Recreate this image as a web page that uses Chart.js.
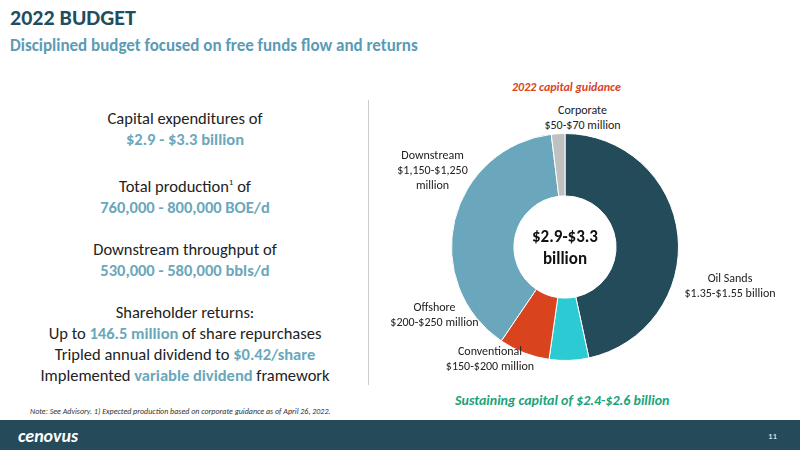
<!DOCTYPE html>
<html><head><meta charset="utf-8">
<script src="https://cdn.jsdelivr.net/npm/chart.js@4"></script>
<style>
body{margin:0;width:800px;height:450px;position:relative;overflow:hidden;background:#fff;font-family:Calibri,Carlito,"Liberation Sans","Open Sans",sans-serif;}
.a{position:absolute;}
#title{left:10px;top:4px;font-size:22px;font-weight:bold;color:#1f4e5f;}
#sub{left:10px;top:35px;font-size:17px;font-weight:bold;color:#5b9bb5;}
#left{left:0;width:370px;top:108px;text-align:center;font-size:16.5px;color:#222;line-height:21px;}
#left b{color:#6aa7bc;}
.lbl{font-size:12px;color:#222;line-height:15px;text-align:center;}
#bar{left:0;top:420px;width:800px;height:30px;background:#254b5b;}
</style></head><body>
<div class="a" id="title">2022 BUDGET</div>
<div class="a" id="sub">Disciplined budget focused on free funds flow and returns</div>
<div class="a" style="left:368px;top:100px;width:1px;height:285px;background:#ccc"></div>
<div class="a" id="left">
Capital expenditures of<br><b>$2.9 - $3.3 billion</b><br><br>
Total production<sup style="font-size:9px">1</sup> of<br><b>760,000 - 800,000 BOE/d</b><br><br>
Downstream throughput of<br><b>530,000 - 580,000 bbls/d</b><br><br>
Shareholder returns:<br>Up to <b>146.5 million</b> of share repurchases<br>
Tripled annual dividend to <b>$0.42/share</b><br>Implemented <b>variable dividend</b> framework
</div>
<div class="a" style="left:30px;top:406px;font-size:8px;font-style:italic;color:#333">Note: See Advisory. 1) Expected production based on corporate guidance as of April 26, 2022.</div>
<div class="a" style="left:512px;top:80px;font-size:12px;font-weight:bold;font-style:italic;color:#d9441f">2022 capital guidance</div>
<div class="a" style="left:455px;top:392px;font-size:14px;font-weight:bold;font-style:italic;color:#1aa37a">Sustaining capital of $2.4-$2.6 billion</div>
<div class="a" style="left:451px;top:133px;width:228px;height:228px"><canvas id="c"></canvas></div>
<div class="a" style="left:515px;top:226px;width:100px;text-align:center;font-size:17px;font-weight:bold;color:#111;line-height:22px">$2.9-$3.3<br>billion</div>
<div class="a lbl" style="left:520px;top:103px;width:125px">Corporate<br>$50-$70 million</div>
<div class="a lbl" style="left:385px;top:148px;width:95px">Downstream<br>$1,150-$1,250<br>million</div>
<div class="a lbl" style="left:665px;top:271px;width:130px">Oil Sands<br>$1.35-$1.55 billion</div>
<div class="a lbl" style="left:382px;top:300px;width:105px">Offshore<br>$200-$250 million</div>
<div class="a lbl" style="left:435px;top:344px;width:110px">Conventional<br>$150-$200 million</div>
<div class="a" id="bar"><div class="a" style="left:18px;top:5px;font-size:18px;font-weight:bold;font-style:italic;color:#fff">cenovus</div><div class="a" style="left:768px;top:10px;font-size:9px;color:#fff">11</div></div>
<script>
const categories=["Oil Sands","Conventional","Offshore","Downstream","Corporate"];
const values=[1450,175,225,1200,60];
const colors=["#244b5a","#2ccbd3","#d9441f","#6aa7bc","#bfc1c0"];
new Chart(document.getElementById('c'),{type:'doughnut',
data:{labels:categories,datasets:[{data:values,backgroundColor:colors,borderColor:'#fff',borderWidth:1}]},
options:{responsive:true,maintainAspectRatio:false,animation:false,cutout:'45%',layout:{padding:0},
plugins:{legend:{display:false},tooltip:{enabled:false}}}});
</script></body></html>
